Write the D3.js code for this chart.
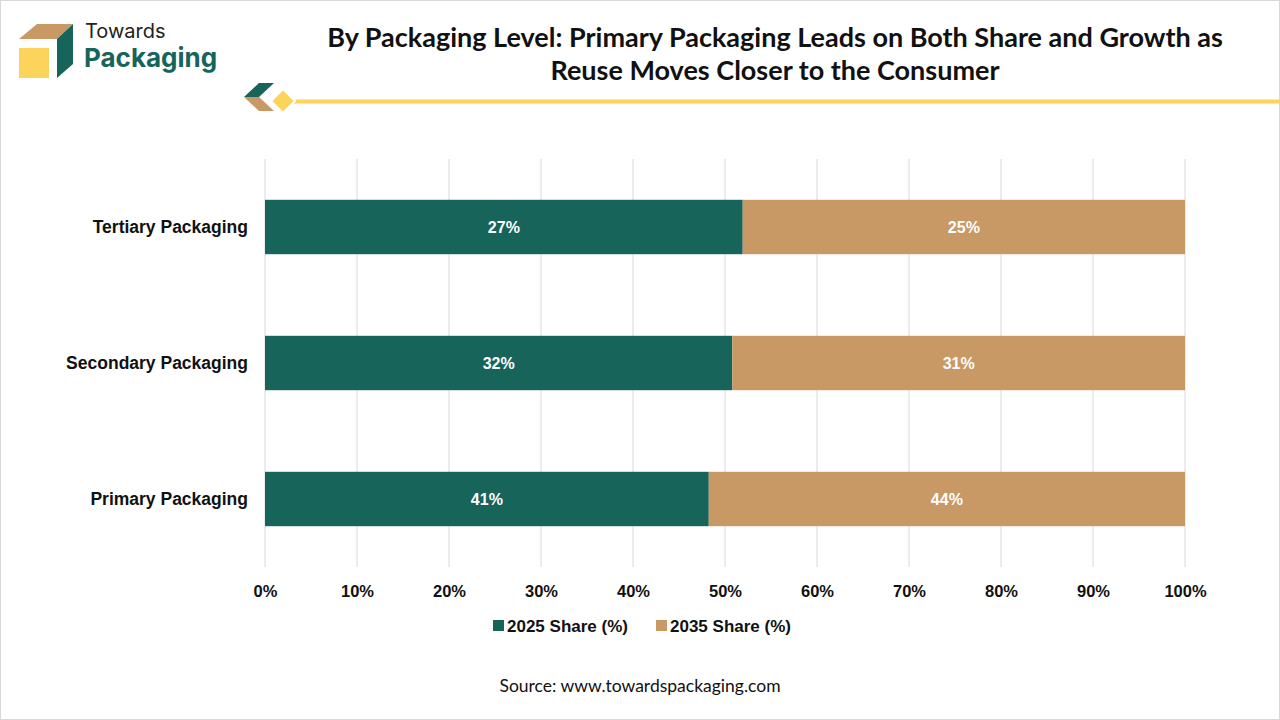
<!DOCTYPE html>
<html>
<head>
<meta charset="utf-8">
<script src="https://cdn.jsdelivr.net/npm/d3@7"></script>
<style>
  body { margin: 0; background: #fff; }
  svg { display: block; }
</style>
</head>
<body>
<div id="chart"></div>
<script>
// data
var categories = ["Tertiary Packaging", "Secondary Packaging", "Primary Packaging"];
var share2025 = [27, 32, 41];
var share2035 = [25, 31, 44];
var seriesNames = ["2025 Share (%)", "2035 Share (%)"];
var tickValues = [0, 0.1, 0.2, 0.3, 0.4, 0.5, 0.6, 0.7, 0.8, 0.9, 1];

var W = 1280, H = 720;
var green = "#17645a", tan = "#c89865", yellow = "#fcd45c";

var svg = d3.select("#chart").append("svg")
	.attr("width", W)
	.attr("height", H);

svg.append("rect")
	.attr("x", 0.5).attr("y", 0.5)
	.attr("width", W - 1).attr("height", H - 1)
	.attr("fill", "#fff")
	.attr("stroke", "#d9d9d9");

// logo
var logo = svg.append("g");
logo.append("path").attr("d", "M37,24 L73,24 L57,39 L19,39 Z").attr("fill", "#c89865");
logo.append("path").attr("d", "M73,24 L73,64 L57,78 L57,39 Z").attr("fill", green);
logo.append("rect").attr("x", 19).attr("y", 48).attr("width", 30).attr("height", 30).attr("fill", yellow);
logo.append("text").attr("x", 85).attr("y", 38)
	.style("font-family", "Inter, 'Noto Sans', sans-serif")
	.style("font-size", "20px").attr("fill", "#222")
	.text("Towards");
logo.append("text").attr("x", 84).attr("y", 67)
	.style("font-family", "Inter, 'Noto Sans', sans-serif")
	.style("font-size", "26px").style("font-weight", "700").attr("fill", green)
	.text("Packaging");

// divider
var div = svg.append("g");
div.append("rect").attr("x", 288).attr("y", 99.5).attr("width", W - 288).attr("height", 4).attr("fill", yellow);
div.append("path").attr("d", "M259,83 L274,83 L259,97 L244,97 Z").attr("fill", green);
div.append("path").attr("d", "M244,97 L259,97 L274,111 L259,111 Z").attr("fill", tan);
div.append("path").attr("d", "M283,89 L295,101 L283,113 L271,101 Z")
	.attr("fill", yellow).attr("stroke", "#fff").attr("stroke-width", 2);

// title
var title = svg.append("text")
	.attr("text-anchor", "middle")
	.style("font-family", "Lato, 'Open Sans', sans-serif")
	.style("font-size", "27px").style("font-weight", "700")
	.attr("fill", "#111");
title.append("tspan").attr("x", 775).attr("y", 47)
	.text("By Packaging Level: Primary Packaging Leads on Both Share and Growth as");
title.append("tspan").attr("x", 775).attr("y", 80)
	.text("Reuse Moves Closer to the Consumer");

// scales
var x = d3.scaleLinear().domain([0, 1]).range([265, 1185]);
var y = d3.scaleBand().domain(categories).range([159, 567]).paddingInner(0.6).paddingOuter(0.3);

// grid
svg.append("g").selectAll("line")
	.data(tickValues)
	.join("line")
	.attr("x1", function(d) { return x(d); })
	.attr("x2", function(d) { return x(d); })
	.attr("y1", 159).attr("y2", 567)
	.attr("stroke", "#d9d9d9").attr("stroke-width", 1);

// stacked to 100%
var rows = categories.map(function(c, i) {
	var tot = share2025[i] + share2035[i];
	return { cat: c, a: share2025[i], b: share2035[i], pa: share2025[i] / tot };
});

var bars = svg.append("g");
rows.forEach(function(d) {
	bars.append("rect")
		.attr("x", x(0)).attr("y", y(d.cat))
		.attr("width", x(d.pa) - x(0)).attr("height", y.bandwidth())
		.attr("fill", green);
	bars.append("rect")
		.attr("x", x(d.pa)).attr("y", y(d.cat))
		.attr("width", x(1) - x(d.pa)).attr("height", y.bandwidth())
		.attr("fill", tan);
	bars.append("text")
		.attr("x", (x(0) + x(d.pa)) / 2).attr("y", y(d.cat) + y.bandwidth() / 2)
		.attr("dy", "0.35em").attr("text-anchor", "middle")
		.attr("fill", "#fff")
		.style("font-family", "'Liberation Sans', Arial, sans-serif")
		.style("font-size", "16px").style("font-weight", "700")
		.text(d.a + "%");
	bars.append("text")
		.attr("x", (x(d.pa) + x(1)) / 2).attr("y", y(d.cat) + y.bandwidth() / 2)
		.attr("dy", "0.35em").attr("text-anchor", "middle")
		.attr("fill", "#fff")
		.style("font-family", "'Liberation Sans', Arial, sans-serif")
		.style("font-size", "16px").style("font-weight", "700")
		.text(d.b + "%");
});

// x axis
var xAxis = svg.append("g")
	.attr("transform", "translate(0,567)")
	.call(d3.axisBottom(x).tickValues(tickValues).tickFormat(d3.format(".0%")).tickSize(0).tickPadding(18));
xAxis.select(".domain").remove();
xAxis.selectAll("text")
	.attr("fill", "#111")
	.style("font-family", "'Liberation Sans', Arial, sans-serif")
	.style("font-size", "16.5px").style("font-weight", "700");

// y axis
var yAxis = svg.append("g")
	.attr("transform", "translate(265,0)")
	.call(d3.axisLeft(y).tickSize(0).tickPadding(17));
yAxis.select(".domain").remove();
yAxis.selectAll("text")
	.attr("fill", "#111")
	.style("font-family", "'Liberation Sans', Arial, sans-serif")
	.style("font-size", "17.5px").style("font-weight", "700");

// legend
var legend = svg.append("g");
var legX = [493, 656];
seriesNames.forEach(function(s, i) {
	legend.append("rect")
		.attr("x", legX[i]).attr("y", 620)
		.attr("width", 11).attr("height", 11)
		.attr("fill", i === 0 ? green : tan);
	legend.append("text")
		.attr("x", legX[i] + 14).attr("y", 626)
		.attr("dy", "0.35em")
		.attr("fill", "#111")
		.style("font-family", "'Liberation Sans', Arial, sans-serif")
		.style("font-size", "17px").style("font-weight", "700")
		.text(s);
});

// source
svg.append("text")
	.attr("x", 640).attr("y", 692)
	.attr("text-anchor", "middle")
	.attr("fill", "#111")
	.style("font-family", "Lato, 'Open Sans', sans-serif")
	.style("font-size", "17.5px")
	.text("Source: www.towardspackaging.com");
</script>
</body>
</html>
